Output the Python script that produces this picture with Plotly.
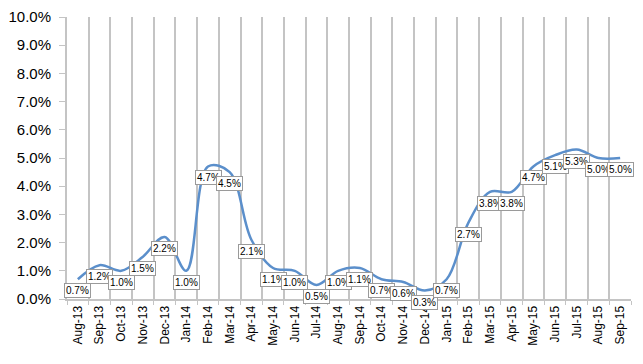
import plotly.graph_objects as go

months = ["Aug-13","Sep-13","Oct-13","Nov-13","Dec-13","Jan-14","Feb-14","Mar-14","Apr-14",
          "May-14","Jun-14","Jul-14","Aug-14","Sep-14","Oct-14","Nov-14","Dec-14","Jan-15",
          "Feb-15","Mar-15","Apr-15","May-15","Jun-15","Jul-15","Aug-15","Sep-15"]
values = [0.7,1.2,1.0,1.5,2.2,1.0,4.7,4.5,2.1,1.1,1.0,0.5,1.0,1.1,0.7,0.6,0.3,0.7,
          2.7,3.8,3.8,4.7,5.1,5.3,5.0,5.0]
y_vals = [v/100 for v in values]

fig = go.Figure()
fig.add_trace(go.Scatter(x=months, y=y_vals, mode="lines",
                         line=dict(color="#5B8FCB", width=2.5, shape="spline", smoothing=1.0),
                         hoverinfo="skip", showlegend=False))

for m, v in zip(months, values):
    fig.add_annotation(x=m, y=v/100, text=f"{v:.1f}%", showarrow=False,
                       yanchor="top", yshift=-4,
                       font=dict(family="Liberation Sans, Arial", size=10, color="#000000"),
                       bgcolor="white", bordercolor="#9A9A9A", borderwidth=1, borderpad=1)

fig.update_layout(
    width=643, height=364,
    margin=dict(l=59, r=20, t=9, b=73, autoexpand=False),
    paper_bgcolor="white", plot_bgcolor="white",
    font=dict(family="Liberation Sans, Arial", color="#000000"),
)
fig.update_xaxes(type="category", tickson="boundaries", showgrid=True, gridcolor="#C4C4C4",
                 gridwidth=2, showline=True, linecolor="#C4C4C4", linewidth=2,
                 tickangle=-90, tickfont=dict(size=12), ticks="outside", ticklen=4,
                 tickcolor="#C4C4C4", range=[-0.5, 25.5], automargin=False)
fig.update_yaxes(range=[0, 0.1], dtick=0.01, tickformat=".1%", showgrid=False,
                 showline=True, linecolor="#C4C4C4", linewidth=2, ticks="outside",
                 ticklen=6, tickcolor="#C4C4C4", tickfont=dict(size=15), zeroline=False,
                 ticklabelstandoff=5, automargin=False)

fig.write_html("out.html")
